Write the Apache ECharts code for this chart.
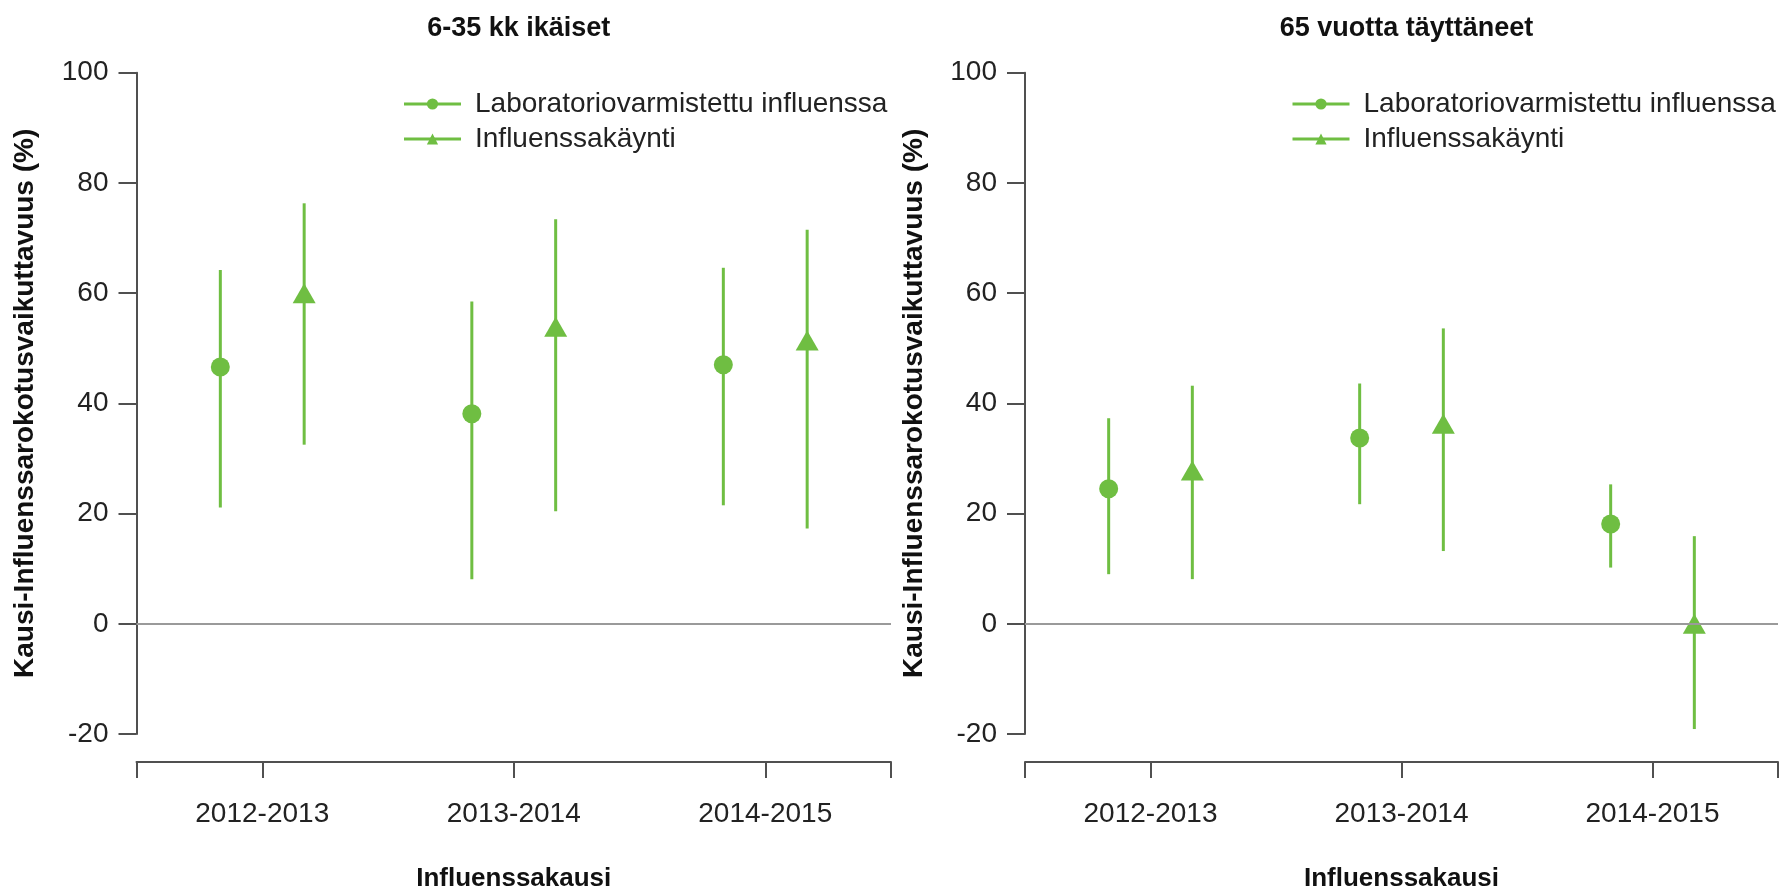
<!DOCTYPE html>
<html>
<head>
<meta charset="utf-8">
<script src="https://cdn.jsdelivr.net/npm/echarts@6/dist/echarts.min.js"></script>
<style>
html,body{margin:0;padding:0;background:#fff;}
#chart{width:1785px;height:888px;}
</style>
</head>
<body>
<div id="chart"></div>
<script>
// ---- data ----
const seasons = ['2012-2013', '2013-2014', '2014-2015'];
const panelTitles = ['6-35 kk ikäiset', '65 vuotta täyttäneet'];
const seriesNames = ['Laboratoriovarmistettu influenssa', 'Influenssakäynti'];
const yTitle = 'Kausi-Influenssarokotusvaikuttavuus (%)';
const xTitle = 'Influenssakausi';

// 6-35 kk
const childLabEst  = [46.6, 38.1, 47.0];
const childLabLo   = [21.1,  8.1, 21.5];
const childLabHi   = [64.2, 58.5, 64.6];
const childVisEst  = [60.0, 53.9, 51.4];
const childVisLo   = [32.5, 20.4, 17.3];
const childVisHi   = [76.3, 73.4, 71.5];
// 65+
const elderLabEst  = [24.5, 33.7, 18.1];
const elderLabLo   = [ 9.0, 21.7, 10.2];
const elderLabHi   = [37.3, 43.6, 25.3];
const elderVisEst  = [27.8, 36.3,  0.0];
const elderVisLo   = [ 8.1, 13.2, -19.1];
const elderVisHi   = [43.2, 53.6, 15.9];

// ---- styling ----
const GREEN = '#6fbe42';
const AXIS = '#505050';
const FONT = "'Liberation Sans', Arial, sans-serif";
const DODGE = 1 / 6;

const panels = [
  {lab: [childLabEst, childLabLo, childLabHi], vis: [childVisEst, childVisLo, childVisHi]},
  {lab: [elderLabEst, elderLabLo, elderLabHi], vis: [elderVisEst, elderVisLo, elderVisHi]}
];

const gridDefs = [
  {left: 136.5, top: 72.7, width: 754.5, height: 661.3, outerBoundsMode: 'none', containLabel: false},
  {left: 1025, top: 72.7, width: 753, height: 661.3, outerBoundsMode: 'none', containLabel: false}
];

const chart = echarts.init(document.getElementById('chart'), null, {renderer: 'canvas'});

const xAxes = [], yAxes = [], series = [], titles = [], legends = [];

function errRender(params, api) {
  const x = api.value(0), lo = api.value(1), hi = api.value(2);
  const p1 = api.coord([x, lo]);
  const p2 = api.coord([x, hi]);
  return {type: 'line', shape: {x1: p1[0], y1: p1[1], x2: p2[0], y2: p2[1]},
          style: {stroke: GREEN, lineWidth: 3}};
}

panels.forEach((p, gi) => {
  const g = gridDefs[gi];
  titles.push({
    text: panelTitles[gi], left: g.left + g.width / 2, top: 10, textAlign: 'center',
    textStyle: {fontFamily: FONT, fontSize: 27, fontWeight: 'bold', color: '#111'}
  });
  legends.push({
    orient: 'vertical', left: g.left + 261, top: 85,
    itemWidth: 57, itemHeight: 14, itemGap: 7,
    data: seriesNames.map(n => n),
    textStyle: {fontFamily: FONT, fontSize: 28, color: '#222', padding: [0, 0, 0, 9]},
    lineStyle: {opacity: 1, width: 3, color: GREEN},
    selectedMode: false
  });
  xAxes.push({
    type: 'value', gridIndex: gi, min: 0.5, max: 3.5, offset: 28,
    axisLine: {show: true, onZero: false, lineStyle: {color: AXIS, width: 2}},
    axisTick: {show: true, customValues: [0.5, 1, 2, 3, 3.5], length: 16, lineStyle: {color: AXIS, width: 2}},
    axisLabel: {customValues: [1, 2, 3], formatter: v => seasons[Math.round(v) - 1] || '',
                margin: 38, fontFamily: FONT, fontSize: 28, color: '#222'},
    splitLine: {show: false},
    name: xTitle, nameLocation: 'middle', nameGap: 104,
    nameTextStyle: {fontFamily: FONT, fontSize: 26, fontWeight: 'bold', color: '#111'}
  });
  yAxes.push({
    type: 'value', gridIndex: gi, min: -20, max: 100, interval: 20,
    axisLine: {show: true, lineStyle: {color: AXIS, width: 2}},
    axisTick: {show: true, length: 18, lineStyle: {color: AXIS, width: 2}},
    axisLabel: {margin: 28, fontFamily: FONT, fontSize: 28, color: '#222'},
    splitLine: {show: false},
    name: yTitle, nameLocation: 'middle', nameGap: 97,
    nameTextStyle: {fontFamily: FONT, fontSize: 28, fontWeight: 'bold', color: '#111'}
  });

  const groups = [
    {name: seriesNames[0], arr: p.lab, off: -DODGE, symbol: 'circle', size: 19},
    {name: seriesNames[1], arr: p.vis, off: DODGE, symbol: 'triangle', size: [23, 20]}
  ];
  groups.forEach((gr, k) => {
    const [est, lo, hi] = gr.arr;
    series.push({
      name: gr.name + ' CI ' + gi, type: 'custom', xAxisIndex: gi, yAxisIndex: gi, z: 2,
      renderItem: errRender, encode: {x: 0, y: [1, 2]},
      data: seasons.map((s, i) => [i + 1 + gr.off, lo[i], hi[i]]),
      silent: true,
      markLine: k === 0 ? {
        silent: true, symbol: 'none', label: {show: false},
        lineStyle: {color: '#9a9a9a', width: 2, type: 'solid'},
        data: [{yAxis: 0}]
      } : undefined
    });
    series.push({
      name: gr.name, type: 'line', xAxisIndex: gi, yAxisIndex: gi, z: 3,
      data: seasons.map((s, i) => [i + 1 + gr.off, est[i]]),
      symbol: gr.symbol, symbolSize: gr.size, showSymbol: true,
      itemStyle: {color: GREEN},
      lineStyle: {opacity: 0, width: 3, color: GREEN},
      silent: true, animation: false
    });
  });
});

chart.setOption({
  animation: false,
  backgroundColor: '#ffffff',
  title: titles,
  legend: legends,
  grid: gridDefs,
  xAxis: xAxes,
  yAxis: yAxes,
  series: series
});
</script>
</body>
</html>
